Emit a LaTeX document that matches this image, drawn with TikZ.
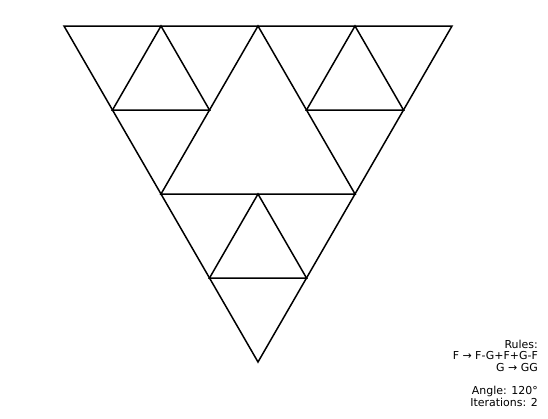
\documentclass[tikz,border=0pt]{standalone}
\usepackage{fontspec}
\setmainfont{DejaVu Sans}
\begin{document}
\begin{tikzpicture}[x=1bp,y=-1bp,
  edge/.style={line width=1.5bp,line join=miter,black},
  lbl/.style={anchor=base east,inner sep=0pt,font=\fontsize{11}{13}\selectfont}]
\useasboundingbox (0,0) rectangle (548,418);
% outer triangle
\coordinate (A) at (64,26);
\coordinate (B) at (452,26);
\coordinate (C) at (258,362);
\draw[edge] (A) -- (B) -- (C) -- cycle;
% level 1 central triangle
\coordinate (m1) at (258,26);
\coordinate (m2) at (161,194);
\coordinate (m3) at (355,194);
\draw[edge] (m1) -- (m2) -- (m3) -- cycle;
% level 2: top-left
\coordinate (a1) at (161,26);
\coordinate (a2) at (112.5,110);
\coordinate (a3) at (209.5,110);
\draw[edge] (a1) -- (a2) -- (a3) -- cycle;
% level 2: top-right
\coordinate (b1) at (355,26);
\coordinate (b2) at (306.5,110);
\coordinate (b3) at (403.5,110);
\draw[edge] (b1) -- (b2) -- (b3) -- cycle;
% level 2: bottom
\coordinate (c1) at (258,194);
\coordinate (c2) at (209.5,278);
\coordinate (c3) at (306.5,278);
\draw[edge] (c1) -- (c2) -- (c3) -- cycle;
% labels
\node[lbl] (t1) at (538,348) {Rules:};
\node[lbl] (t2) at (538,359.5) {F → F-G+F+G-F};
\node[lbl] (t3) at (538,371) {G → GG};
\node[lbl] (t4) at (538,394.5) {Angle: 120°};
\node[lbl] (t5) at (538,406) {Iterations: 2};
\end{tikzpicture}
\end{document}
